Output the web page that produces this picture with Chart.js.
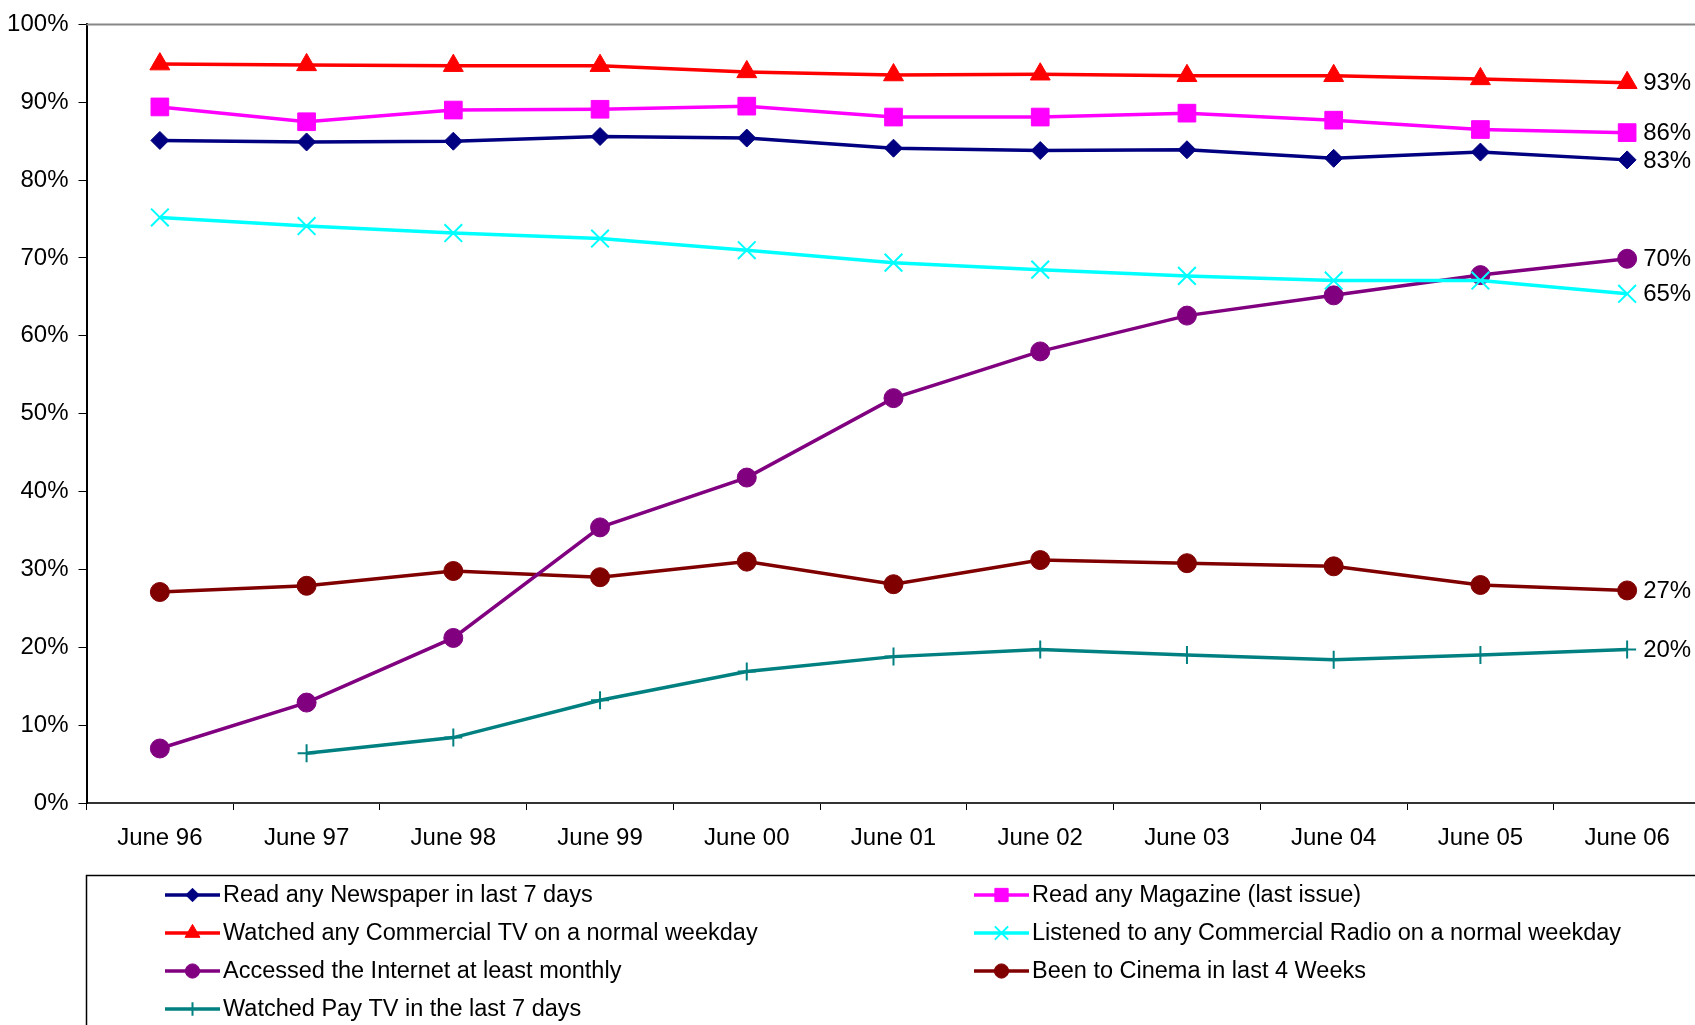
<!DOCTYPE html>
<html>
<head>
<meta charset="utf-8">
<script src="https://cdn.jsdelivr.net/npm/chart.js@4/dist/chart.umd.min.js"></script>
<style>
  html, body { margin: 0; padding: 0; background: #fff; overflow: hidden; }
  #wrap { width: 1715px; height: 1025px; }
</style>
</head>
<body>
<div id="wrap"><canvas id="c" width="1715" height="1025"></canvas></div>
<script>
// Survey periods
const categories = ['June 96', 'June 97', 'June 98', 'June 99', 'June 00', 'June 01',
                    'June 02', 'June 03', 'June 04', 'June 05', 'June 06'];

// Share of people (%) per medium
const newspaper = [85.1, 84.9, 85.0, 85.6, 85.4, 84.1, 83.8, 83.9, 82.8, 83.6, 82.6];
const magazine  = [89.4, 87.5, 89.0, 89.1, 89.5, 88.1, 88.1, 88.6, 87.7, 86.5, 86.1];
const commercialTV = [94.9, 94.8, 94.7, 94.7, 93.9, 93.5, 93.6, 93.4, 93.4, 93.0, 92.5];
const commercialRadio = [75.2, 74.1, 73.2, 72.5, 71.0, 69.4, 68.5, 67.7, 67.1, 67.1, 65.4];
const internet = [7.0, 12.9, 21.2, 35.4, 41.8, 52.0, 58.0, 62.6, 65.2, 67.8, 69.9];
const cinema   = [27.1, 27.9, 29.8, 29.0, 31.0, 28.1, 31.2, 30.8, 30.4, 28.0, 27.3];
const payTV    = [null, 6.4, 8.4, 13.2, 16.9, 18.8, 19.7, 19.0, 18.4, 19.0, 19.7];

const seriesNames = [
  'Read any Newspaper in last 7 days',
  'Read any Magazine (last issue)',
  'Watched any Commercial TV on a normal weekday',
  'Listened to any Commercial Radio on a normal weekday',
  'Accessed the Internet at least monthly',
  'Been to Cinema in last 4 Weeks',
  'Watched Pay TV in the last 7 days'
];

const yTicks = [0, 10, 20, 30, 40, 50, 60, 70, 80, 90, 100];

const FONT = '"Liberation Sans", Arial, sans-serif';
const FS = 24;
const LEGEND_FS = 23.5;

function series(label, data, color, style, radius, bw) {
  return {
    label, data,
    borderColor: color,
    backgroundColor: color,
    borderWidth: 3.5,
    pointStyle: style,
    pointRadius: radius,
    pointHoverRadius: radius,
    pointBackgroundColor: color,
    pointBorderColor: color,
    pointBorderWidth: bw,
    tension: 0,
    spanGaps: false
  };
}

const datasets = [
  series(seriesNames[0], newspaper, '#000080', 'rectRot', 9, 1),
  series(seriesNames[1], magazine, '#FF00FF', 'rect', 12.5, 1),
  series(seriesNames[2], commercialTV, '#FF0000', 'triangle', 11.5, 1),
  series(seriesNames[3], commercialRadio, '#00FFFF', 'crossRot', 12.5, 2),
  series(seriesNames[4], internet, '#800080', 'circle', 9.5, 1),
  series(seriesNames[5], cinema, '#800000', 'circle', 9.5, 1),
  series(seriesNames[6], payTV, '#008080', 'cross', 9, 2)
];

// Plot frame: grey top edge and right edge
const framePlugin = {
  id: 'frame',
  beforeDatasetsDraw(chart) {
    const { ctx, chartArea: a } = chart;
    ctx.save();
    ctx.strokeStyle = '#888888';
    ctx.lineWidth = 2;
    ctx.beginPath();
    ctx.moveTo(a.left, a.top);
    ctx.lineTo(a.right, a.top);
    ctx.lineTo(a.right, a.bottom);
    ctx.stroke();
    ctx.restore();
  }
};

// Latest value printed beside each series' last point
const endLabelPlugin = {
  id: 'endLabels',
  afterDatasetsDraw(chart) {
    const { ctx } = chart;
    ctx.save();
    ctx.font = FS + 'px ' + FONT;
    ctx.fillStyle = '#000';
    ctx.textAlign = 'left';
    ctx.textBaseline = 'middle';
    chart.data.datasets.forEach((ds, i) => {
      const meta = chart.getDatasetMeta(i);
      const last = ds.data.length - 1;
      const pt = meta.data[last];
      const v = ds.data[last];
      if (pt && v != null) {
        ctx.fillText(Math.round(v) + '%', pt.x + 16, pt.y + 1);
      }
    });
    ctx.restore();
  }
};

// Boxed two-column legend under the axis
const legendBoxPlugin = {
  id: 'legendBox',
  afterDraw(chart) {
    const { ctx } = chart;
    const boxLeft = 86.5, boxTop = 875.5;
    ctx.save();
    ctx.strokeStyle = '#000';
    ctx.lineWidth = 1.5;
    ctx.strokeRect(boxLeft, boxTop, chart.width + 20, 400);

    const cols = [165, 974];
    const rowY0 = 895, rowStep = 38;
    ctx.font = LEGEND_FS + 'px ' + FONT;
    ctx.textAlign = 'left';
    ctx.textBaseline = 'middle';
    chart.data.datasets.forEach((ds, i) => {
      const col = i % 2, row = Math.floor(i / 2);
      const x0 = cols[col];
      const y = rowY0 + row * rowStep;
      ctx.strokeStyle = ds.borderColor;
      ctx.fillStyle = ds.borderColor;
      ctx.lineWidth = 3.5;
      ctx.beginPath();
      ctx.moveTo(x0, y);
      ctx.lineTo(x0 + 55, y);
      ctx.stroke();
      ctx.lineWidth = ds.pointBorderWidth;
      Chart.helpers.drawPoint(ctx, {
        pointStyle: ds.pointStyle,
        radius: ds.pointRadius * 0.75,
        borderWidth: ds.pointBorderWidth,
        rotation: 0
      }, x0 + 27.5, y);
      ctx.fillStyle = '#000';
      ctx.fillText(ds.label, x0 + 58, y + 1);
    });
    ctx.restore();
  }
};

new Chart(document.getElementById('c'), {
  type: 'line',
  data: { labels: categories, datasets },
  plugins: [framePlugin, endLabelPlugin, legendBoxPlugin],
  options: {
    responsive: false,
    animation: false,
    devicePixelRatio: 1,
    layout: { padding: { top: 22, left: 0, right: 1, bottom: 0 } },
    plugins: {
      legend: { display: false },
      tooltip: { enabled: false },
      title: { display: false }
    },
    scales: {
      x: {
        type: 'category',
        offset: true,
        afterFit(scale) { scale.height = 222; },
        grid: {
          offset: true,
          drawOnChartArea: false,
          drawTicks: true,
          tickLength: 7,
          color: '#000',
          lineWidth: 1
        },
        border: { display: true, color: '#333', width: 2 },
        ticks: {
          color: '#000',
          font: { family: FONT, size: FS },
          padding: 14,
          maxRotation: 0,
          autoSkip: false
        }
      },
      y: {
        min: 0,
        max: 100,
        afterFit(scale) { scale.width = 86.5; },
        afterBuildTicks(scale) { scale.ticks = yTicks.map(v => ({ value: v })); },
        grid: {
          drawOnChartArea: false,
          drawTicks: true,
          tickLength: 8,
          color: '#000',
          lineWidth: 1
        },
        border: { display: true, color: '#000', width: 2 },
        ticks: {
          color: '#000',
          font: { family: FONT, size: FS },
          padding: 10,
          callback: v => v + '%'
        }
      }
    }
  }
});
</script>
</body>
</html>
